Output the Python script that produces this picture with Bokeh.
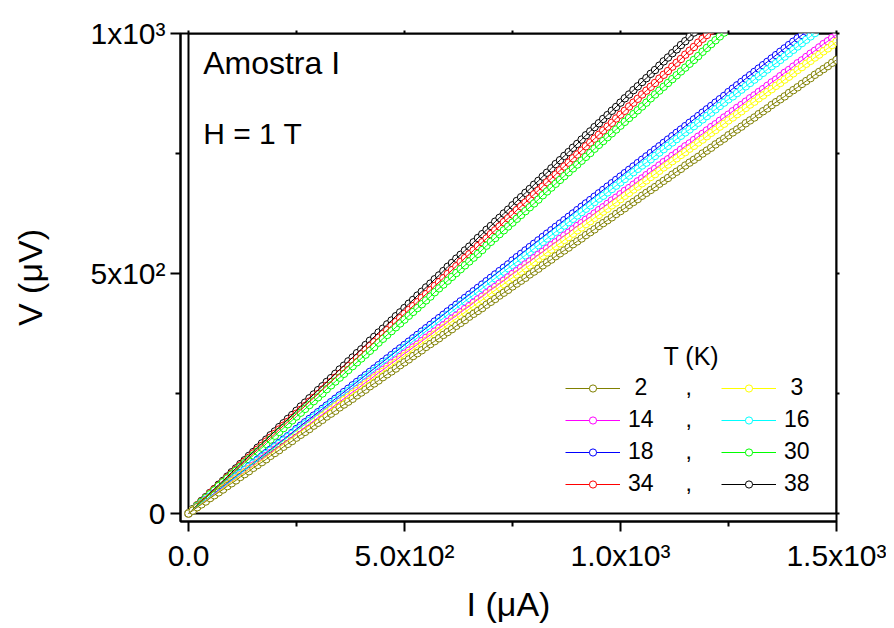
from bokeh.plotting import figure
from bokeh.models import (Range1d, FixedTicker, LinearAxis, Label, Legend, LegendItem,
                          BoxAnnotation)
from bokeh.embed import file_html
from bokeh.resources import INLINE

# ---------------- data ----------------
current_uA = [
    0, 10, 20, 30, 40, 50, 60, 70, 80, 90,
    100, 110, 120, 130, 140, 150, 160, 170, 180, 190,
    200, 210, 220, 230, 240, 250, 260, 270, 280, 290,
    300, 310, 320, 330, 340, 350, 360, 370, 380, 390,
    400, 410, 420, 430, 440, 450, 460, 470, 480, 490,
    500, 510, 520, 530, 540, 550, 560, 570, 580, 590,
    600, 610, 620, 630, 640, 650, 660, 670, 680, 690,
    700, 710, 720, 730, 740, 750, 760, 770, 780, 790,
    800, 810, 820, 830, 840, 850, 860, 870, 880, 890,
    900, 910, 920, 930, 940, 950, 960, 970, 980, 990,
    1000, 1010, 1020, 1030, 1040, 1050, 1060, 1070, 1080, 1090,
    1100, 1110, 1120, 1130, 1140, 1150, 1160, 1170, 1180, 1190,
    1200, 1210, 1220, 1230, 1240, 1250, 1260, 1270, 1280, 1290,
    1300, 1310, 1320, 1330, 1340, 1350, 1360, 1370, 1380, 1390,
    1400, 1410, 1420, 1430, 1440, 1450, 1460, 1470, 1480, 1490,
    1500,
]

v_2K = [
    0, 6, 13, 19, 25, 32, 38, 44, 50, 57,
    63, 69, 76, 82, 88, 95, 101, 107, 113, 120,
    126, 132, 139, 145, 151, 158, 164, 170, 176, 183,
    189, 195, 202, 208, 214, 221, 227, 233, 239, 246,
    252, 258, 265, 271, 277, 284, 290, 296, 302, 309,
    315, 321, 328, 334, 340, 347, 353, 359, 365, 372,
    378, 384, 391, 397, 403, 410, 416, 422, 428, 435,
    441, 447, 454, 460, 466, 473, 479, 485, 491, 498,
    504, 510, 517, 523, 529, 536, 542, 548, 554, 561,
    567, 573, 580, 586, 592, 599, 605, 611, 617, 624,
    630, 636, 643, 649, 655, 662, 668, 674, 680, 687,
    693, 699, 706, 712, 718, 725, 731, 737, 743, 750,
    756, 762, 769, 775, 781, 788, 794, 800, 806, 813,
    819, 825, 832, 838, 844, 851, 857, 863, 869, 876,
    882, 888, 895, 901, 907, 914, 920, 926, 932, 939,
    945,
]

v_3K = [
    0, 7, 13, 20, 26, 33, 39, 46, 52, 59,
    66, 72, 79, 85, 92, 98, 105, 111, 118, 124,
    131, 138, 144, 151, 157, 164, 170, 177, 183, 190,
    197, 203, 210, 216, 223, 229, 236, 242, 249, 255,
    262, 269, 275, 282, 288, 295, 301, 308, 314, 321,
    328, 334, 341, 347, 354, 360, 367, 373, 380, 386,
    393, 400, 406, 413, 419, 426, 432, 439, 445, 452,
    459, 465, 472, 478, 485, 491, 498, 504, 511, 517,
    524, 531, 537, 544, 550, 557, 563, 570, 576, 583,
    590, 596, 603, 609, 616, 622, 629, 635, 642, 648,
    655, 662, 668, 675, 681, 688, 694, 701, 707, 714,
    721, 727, 734, 740, 747, 753, 760, 766, 773, 779,
    786, 793, 799, 806, 812, 819, 825, 832, 838, 845,
    852, 858, 865, 871, 878, 884, 891, 897, 904, 910,
    917, 924, 930, 937, 943, 950, 956, 963, 969, 976,
    983,
]

v_14K = [
    0, 7, 13, 20, 27, 33, 40, 47, 53, 60,
    67, 73, 80, 86, 93, 100, 106, 113, 120, 126,
    133, 140, 146, 153, 160, 166, 173, 180, 186, 193,
    200, 206, 213, 219, 226, 233, 239, 246, 253, 259,
    266, 273, 279, 286, 293, 299, 306, 313, 319, 326,
    333, 339, 346, 352, 359, 366, 372, 379, 386, 392,
    399, 406, 412, 419, 426, 432, 439, 446, 452, 459,
    466, 472, 479, 485, 492, 499, 505, 512, 519, 525,
    532, 539, 545, 552, 559, 565, 572, 579, 585, 592,
    599, 605, 612, 618, 625, 632, 638, 645, 652, 658,
    665, 672, 678, 685, 692, 698, 705, 712, 718, 725,
    732, 738, 745, 751, 758, 765, 771, 778, 785, 791,
    798, 805, 811, 818, 825, 831, 838, 845, 851, 858,
    865, 871, 878, 884, 891, 898, 904, 911, 918, 924,
    931, 938, 944, 951, 958, 964, 971, 978, 984, 991,
    998,
]

v_16K = [
    0, 7, 14, 21, 28, 35, 41, 48, 55, 62,
    69, 76, 83, 90, 97, 104, 110, 117, 124, 131,
    138, 145, 152, 159, 166, 173, 179, 186, 193, 200,
    207, 214, 221, 228, 235, 242, 248, 255, 262, 269,
    276, 283, 290, 297, 304, 311, 317, 324, 331, 338,
    345, 352, 359, 366, 373, 380, 386, 393, 400, 407,
    414, 421, 428, 435, 442, 449, 455, 462, 469, 476,
    483, 490, 497, 504, 511, 518, 524, 531, 538, 545,
    552, 559, 566, 573, 580, 587, 593, 600, 607, 614,
    621, 628, 635, 642, 649, 656, 662, 669, 676, 683,
    690, 697, 704, 711, 718, 725, 731, 738, 745, 752,
    759, 766, 773, 780, 787, 794, 800, 807, 814, 821,
    828, 835, 842, 849, 856, 863, 869, 876, 883, 890,
    897, 904, 911, 918, 925, 932, 938, 945, 952, 959,
    966, 973, 980, 987, 994, 1001,
]

v_18K = [
    0, 7, 14, 21, 28, 35, 42, 49, 56, 63,
    70, 77, 84, 91, 98, 105, 112, 119, 126, 133,
    140, 147, 154, 161, 168, 176, 183, 190, 197, 204,
    211, 218, 225, 232, 239, 246, 253, 260, 267, 274,
    281, 288, 295, 302, 309, 316, 323, 330, 337, 344,
    351, 358, 365, 372, 379, 386, 393, 400, 407, 414,
    421, 428, 435, 442, 449, 456, 463, 470, 477, 484,
    491, 498, 505, 512, 519, 527, 534, 541, 548, 555,
    562, 569, 576, 583, 590, 597, 604, 611, 618, 625,
    632, 639, 646, 653, 660, 667, 674, 681, 688, 695,
    702, 709, 716, 723, 730, 737, 744, 751, 758, 765,
    772, 779, 786, 793, 800, 807, 814, 821, 828, 835,
    842, 849, 856, 863, 870, 878, 885, 892, 899, 906,
    913, 920, 927, 934, 941, 948, 955, 962, 969, 976,
    983, 990, 997, 1004,
]

v_30K = [
    0, 8, 16, 24, 32, 40, 48, 57, 65, 73,
    81, 89, 97, 105, 113, 121, 129, 137, 145, 154,
    162, 170, 178, 186, 194, 202, 210, 218, 226, 234,
    242, 250, 259, 267, 275, 283, 291, 299, 307, 315,
    323, 331, 339, 347, 356, 364, 372, 380, 388, 396,
    404, 412, 420, 428, 436, 444, 452, 461, 469, 477,
    485, 493, 501, 509, 517, 525, 533, 541, 549, 558,
    566, 574, 582, 590, 598, 606, 614, 622, 630, 638,
    646, 654, 663, 671, 679, 687, 695, 703, 711, 719,
    727, 735, 743, 751, 760, 768, 776, 784, 792, 800,
    808, 816, 824, 832, 840, 848, 856, 865, 873, 881,
    889, 897, 905, 913, 921, 929, 937, 945, 953, 962,
    970, 978, 986, 994, 1002,
]

v_34K = [
    0, 8, 17, 25, 33, 42, 50, 58, 66, 75,
    83, 91, 100, 108, 116, 125, 133, 141, 150, 158,
    166, 175, 183, 191, 199, 208, 216, 224, 233, 241,
    249, 258, 266, 274, 283, 291, 299, 307, 316, 324,
    332, 341, 349, 357, 366, 374, 382, 391, 399, 407,
    416, 424, 432, 440, 449, 457, 465, 474, 482, 490,
    499, 507, 515, 524, 532, 540, 548, 557, 565, 573,
    582, 590, 598, 607, 615, 623, 632, 640, 648, 656,
    665, 673, 681, 690, 698, 706, 715, 723, 731, 740,
    748, 756, 765, 773, 781, 789, 798, 806, 814, 823,
    831, 839, 848, 856, 864, 873, 881, 889, 897, 906,
    914, 922, 931, 939, 947, 956, 964, 972, 981, 989,
    997, 1006,
]

v_38K = [
    0, 9, 17, 26, 34, 43, 51, 60, 68, 77,
    86, 94, 103, 111, 120, 128, 137, 146, 154, 163,
    171, 180, 188, 197, 205, 214, 223, 231, 240, 248,
    257, 265, 274, 282, 291, 300, 308, 317, 325, 334,
    342, 351, 360, 368, 377, 385, 394, 402, 411, 419,
    428, 437, 445, 454, 462, 471, 479, 488, 496, 505,
    514, 522, 531, 539, 548, 556, 565, 574, 582, 591,
    599, 608, 616, 625, 633, 642, 651, 659, 668, 676,
    685, 693, 702, 710, 719, 728, 736, 745, 753, 762,
    770, 779, 788, 796, 805, 813, 822, 830, 839, 847,
    856, 865, 873, 882, 890, 899, 907, 916, 924, 933,
    942, 950, 959, 967, 976, 984, 993, 1002,
]

temperatures = ["2", "3", "14", "16", "18", "30", "34", "38"]
voltages = [v_2K, v_3K, v_14K, v_16K, v_18K, v_30K, v_34K, v_38K]
colors = ["#808000", "#FFFF00", "#FF00FF", "#00FFFF",
          "#0000FF", "#00FF00", "#FF0000", "#000000"]

x_ticks = [0, 500, 1000, 1500]
x_minor_ticks = [250, 750, 1250]
x_tick_labels = ["0.0", "5.0x10\u00b2", "1.0x10\u00b3", "1.5x10\u00b3"]
y_ticks = [0, 500, 1000]
y_minor_ticks = [250, 750]
y_tick_labels = ["0", "5x10\u00b2", "1x10\u00b3"]

FONT = "Liberation Sans"

# ---------------- figure ----------------
p = figure(frame_width=656, frame_height=488,
           min_border_left=180, min_border_right=50,
           min_border_top=33, min_border_bottom=99,
           x_range=Range1d(-18.5, 1500), y_range=Range1d(-16.7, 1000),
           output_backend="svg", toolbar_location=None,
           x_axis_label="I (\u03bcA)", y_axis_label="V (\u03bcV)")
p.grid.visible = False
p.background_fill_color = "white"
p.border_fill_color = "white"
p.outline_line_color = "black"
p.outline_line_width = 2

for ax, ticks, minor, labels in ((p.xaxis[0], x_ticks, x_minor_ticks, x_tick_labels),
                                 (p.yaxis[0], y_ticks, y_minor_ticks, y_tick_labels)):
    ax.ticker = FixedTicker(ticks=ticks, minor_ticks=minor)
    ax.major_label_overrides = dict(zip(ticks, labels))
    ax.axis_line_width = 2
    ax.major_tick_line_width = 2
    ax.minor_tick_line_width = 2
    ax.major_tick_out = 10
    ax.major_tick_in = 0
    ax.minor_tick_out = 5
    ax.minor_tick_in = 0
    ax.major_label_text_font = FONT
    ax.major_label_text_font_size = "30px"
    ax.major_label_text_color = "black"
    ax.axis_label_text_font = FONT
    ax.axis_label_text_font_size = "34px"
    ax.axis_label_text_font_style = "normal"
    ax.axis_label_text_color = "black"

p.xaxis[0].major_label_standoff = 7
p.xaxis[0].axis_label_standoff = 10
p.yaxis[0].major_label_standoff = 5
p.yaxis[0].axis_label_standoff = 38

# mirror ticks on top and right (tick marks only, no labels)
for side, ticks, minor in (("above", x_ticks, x_minor_ticks), ("right", y_ticks, y_minor_ticks)):
    m = LinearAxis(ticker=FixedTicker(ticks=[], minor_ticks=sorted(ticks + minor)))
    m.axis_line_color = None
    m.major_tick_line_color = None
    m.minor_tick_out = 3
    m.minor_tick_in = 0
    m.minor_tick_line_width = 2
    p.add_layout(m, side)

# inner frame at the origin
p.add_layout(BoxAnnotation(left=0, bottom=0, fill_alpha=0, line_color="black",
                           line_alpha=1.0, line_width=2, level="underlay"))

# ---------------- data series ----------------
# symbols first (highest temperature underneath), then the lines on top
scatter_r = {}
for t, v, c in reversed(list(zip(temperatures, voltages, colors))):
    x = current_uA[:len(v)]
    scatter_r[t] = p.scatter(x, v, marker="circle", size=7.5, line_color=c, line_width=1,
                             fill_color="white")
line_r = {}
for t, v, c in reversed(list(zip(temperatures, voltages, colors))):
    x = current_uA[:len(v)]
    line_r[t] = p.line(x, v, line_color=c, line_width=1)

NB = "\u00a0"
def col1_label(t):
    return (NB + t if len(t) == 1 else t) + NB * (6 if len(t) == 1 else 5) + ","

def col2_label(t):
    return NB + t if len(t) == 1 else t

left_col = [temperatures[i] for i in (0, 2, 4, 6)]
right_col = [temperatures[i] for i in (1, 3, 5, 7)]
legend_items = ([LegendItem(label=col1_label(t), renderers=[line_r[t], scatter_r[t]]) for t in left_col] +
                [LegendItem(label=col2_label(t), renderers=[line_r[t], scatter_r[t]]) for t in right_col])

legend = Legend(items=legend_items, orientation="vertical", ncols=2,
                location=(385, 24), padding=0, margin=0, spacing=5,
                glyph_width=55, glyph_height=18, label_height=26, label_width=88,
                label_standoff=8, border_line_color=None, background_fill_alpha=0,
                label_text_font=FONT, label_text_font_size="23px", label_text_color="black")
p.add_layout(legend, "center")

# ---------------- texts ----------------
p.add_layout(Label(x=1164, y=329, text="T (K)", text_align="center",
                   text_baseline="alphabetic", text_font=FONT, text_font_size="25px",
                   text_color="black"))
p.add_layout(Label(x=34, y=938, text="Amostra I", text_baseline="alphabetic",
                   text_font=FONT, text_font_size="32px", text_color="black"))
p.add_layout(Label(x=34, y=792, text="H = 1 T", text_baseline="alphabetic",
                   text_font=FONT, text_font_size="30px", text_color="black"))

open("out.html", "w").write(file_html(p, INLINE))
